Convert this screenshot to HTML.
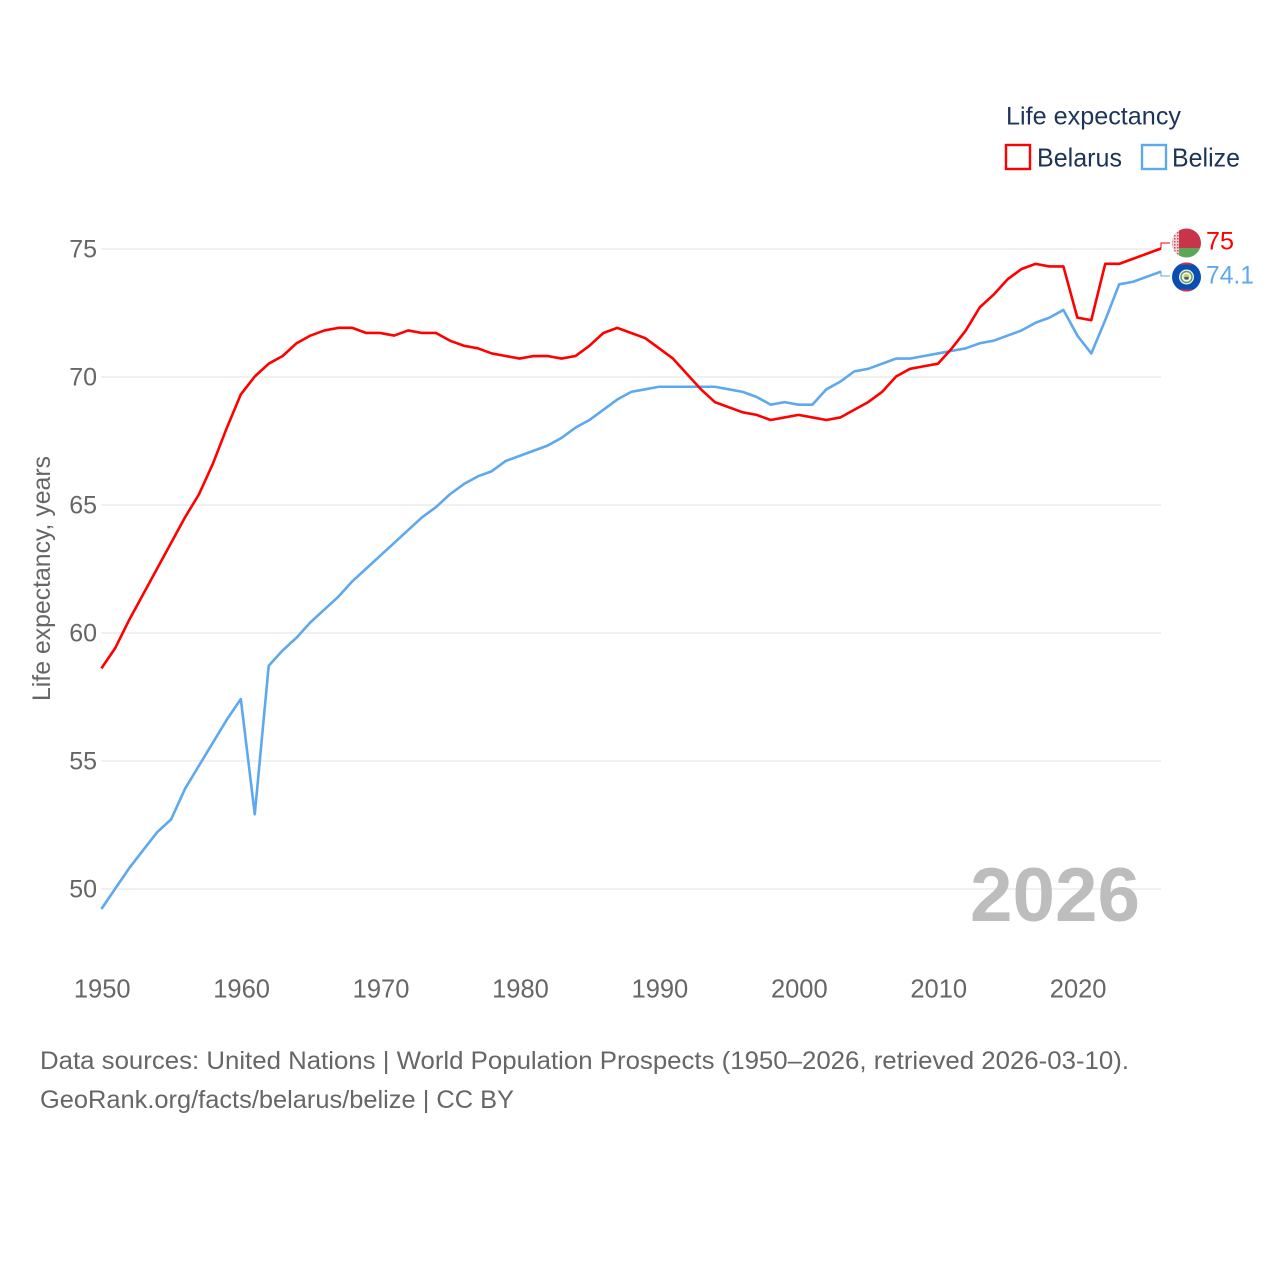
<!DOCTYPE html>
<html lang="en">
<head>
<meta charset="utf-8">
<title>Life expectancy: Belarus and Belize</title>
<style>
html,body{margin:0;padding:0;background:#fff;}
svg{display:block;font-family:"Liberation Sans",Arial,sans-serif;}
</style>
</head>
<body>
<svg id="chart" xmlns="http://www.w3.org/2000/svg" width="1280" height="1280" viewBox="0 0 1280 1280">
  <rect x="0" y="0" width="1280" height="1280" fill="#fff"/>
  <defs>
    <clipPath id="flag-clip-top"><circle cx="1186.500" cy="243" r="14.500"/></clipPath>
    <clipPath id="flag-clip-bottom"><circle cx="1186.500" cy="277" r="14.500"/></clipPath>
    <pattern id="ornament" width="3" height="3" patternUnits="userSpaceOnUse">
      <rect width="3" height="3" fill="#f0d5d8"/>
      <rect x="1" y="1" width="1.500" height="1.500" fill="#cf4a5a"/>
    </pattern>
  </defs>
  <g id="grid"></g>
  <g id="y-ticks"></g>
  <g id="x-ticks"></g>
  <text transform="translate(50,701) rotate(-90)" font-size="25" fill="#666" textLength="245" lengthAdjust="spacingAndGlyphs">Life expectancy, years</text>
  <text x="970" y="921" font-size="76" font-weight="700" fill="#bdbdbd" textLength="170" lengthAdjust="spacingAndGlyphs">2026</text>
  <g id="series" transform="translate(0,-0.5)"></g>

  <g>
    <text x="1006" y="124.500" font-size="25" fill="#1c3557" textLength="175" lengthAdjust="spacingAndGlyphs">Life expectancy</text>
    <g>
      <rect x="1006" y="145" width="24" height="24" fill="#fff" stroke="#f00" stroke-width="2.400"/>
      <text x="1037" y="166.500" font-size="26" fill="#1c3557" textLength="85" lengthAdjust="spacingAndGlyphs">Belarus</text>
    </g>
    <g>
      <rect x="1142" y="145" width="24" height="24" fill="#fff" stroke="#5ea8ee" stroke-width="2.400"/>
      <text x="1172" y="166.500" font-size="26" fill="#1c3557" textLength="68" lengthAdjust="spacingAndGlyphs">Belize</text>
    </g>
  </g>

  <g clip-path="url(#flag-clip-top)">
    <rect x="1172" y="228" width="30" height="20" fill="#c9344a"/>
    <rect x="1172" y="248" width="30" height="10" fill="#5aa75a"/>
    <rect x="1172" y="228" width="7" height="30" fill="url(#ornament)"/>
  </g>
  <g clip-path="url(#flag-clip-bottom)">
    <rect x="1172" y="262" width="30" height="30" fill="#0a4fb0"/>
    <rect x="1172" y="262" width="30" height="2.500" fill="#c9344a"/>
    <rect x="1172" y="289.500" width="30" height="2.500" fill="#c9344a"/>
    <circle cx="1186.500" cy="277" r="7.500" fill="#f4f4ee"/>
    <circle cx="1186.500" cy="277" r="5.500" fill="none" stroke="#5f9f63" stroke-width="1.500"/>
    <circle cx="1186.500" cy="277" r="3" fill="#d9c25a"/>
    <rect x="1184.500" y="277" width="4" height="2.500" fill="#2c5a9c"/>
  </g>
  <text id="label-belarus" x="1206" y="249.500" font-size="25" fill="#f00" textLength="28" lengthAdjust="spacingAndGlyphs"></text>
  <text id="label-belize" x="1206" y="283.500" font-size="25" fill="#5ea8ee" textLength="48" lengthAdjust="spacingAndGlyphs"></text>

  <text x="40" y="1069" font-size="25" fill="#666" textLength="1089" lengthAdjust="spacingAndGlyphs">Data sources: United Nations | World Population Prospects (1950–2026, retrieved 2026-03-10).</text>
  <text x="40" y="1108" font-size="25" fill="#666" textLength="474" lengthAdjust="spacingAndGlyphs">GeoRank.org/facts/belarus/belize | CC BY</text>
</svg>
<script>
const startYear = 1950;
const endYear = 2026;
const yTickValues = [50, 55, 60, 65, 70, 75];
const xTickValues = [1950, 1960, 1970, 1980, 1990, 2000, 2010, 2020];
const belarusValues = [58.6,59.4,60.5,61.5,62.5,63.5,64.5,65.4,66.6,68,69.3,70,70.5,70.8,71.3,71.6,71.8,71.9,71.9,71.7,71.7,71.6,71.8,71.7,71.7,71.4,71.2,71.1,70.9,70.8,70.7,70.8,70.8,70.7,70.8,71.2,71.7,71.9,71.7,71.5,71.1,70.7,70.1,69.5,69,68.8,68.6,68.5,68.3,68.4,68.5,68.4,68.3,68.4,68.7,69,69.4,70,70.3,70.4,70.5,71.1,71.8,72.7,73.2,73.8,74.2,74.4,74.3,74.3,72.3,72.2,74.4,74.4,74.6,74.8,75];
const belizeValues = [49.2,50,50.8,51.5,52.2,52.7,53.9,54.8,55.7,56.6,57.4,52.9,58.7,59.3,59.8,60.4,60.9,61.4,62,62.5,63,63.5,64,64.5,64.9,65.4,65.8,66.1,66.3,66.7,66.9,67.1,67.3,67.6,68,68.3,68.7,69.1,69.4,69.5,69.6,69.6,69.6,69.6,69.6,69.5,69.4,69.2,68.9,69,68.9,68.9,69.5,69.8,70.2,70.3,70.5,70.7,70.7,70.8,70.9,71,71.1,71.3,71.4,71.6,71.8,72.1,72.3,72.6,71.6,70.9,72.2,73.6,73.7,73.9,74.1];
const belarusEndLabel = "75";
const belizeEndLabel = "74.1";

const NS = 'http://www.w3.org/2000/svg';
function xScale(year) { return 101.4 + (year - 1950) * (1161 - 101.4) / 76; }
function yScale(value) { return 889 - (value - 50) * 25.6; }

const grid = document.getElementById('grid');
const yTicks = document.getElementById('y-ticks');
const xTicks = document.getElementById('x-ticks');
const series = document.getElementById('series');

yTickValues.forEach(function (v) {
  const line = document.createElementNS(NS, 'line');
  
  
  line.setAttribute('x1', xScale(startYear));
  line.setAttribute('x2', xScale(endYear));
  line.setAttribute('y1', yScale(v));
  line.setAttribute('y2', yScale(v));
  line.setAttribute('stroke', '#e6e6e6');
  line.setAttribute('stroke-width', '1.2');
  grid.appendChild(line);

  const label = document.createElementNS(NS, 'text');
  
  
  label.setAttribute('x', 97);
  label.setAttribute('y', yScale(v) + 8.5);
  label.setAttribute('text-anchor', 'end');
  label.setAttribute('font-size', '25');
  label.setAttribute('fill', '#666');
  label.textContent = String(v);
  yTicks.appendChild(label);
});

xTickValues.forEach(function (year) {
  const label = document.createElementNS(NS, 'text');
  
  
  label.setAttribute('x', xScale(year) + 0.8);
  label.setAttribute('y', 997.5);
  label.setAttribute('text-anchor', 'middle');
  label.setAttribute('font-size', '25.5');
  label.setAttribute('fill', '#666');
  label.textContent = String(year);
  xTicks.appendChild(label);
});

function linePoints(values) {
  return values.map(function (v, i) {
    return xScale(startYear + i).toFixed(2) + ',' + yScale(v).toFixed(2);
  }).join(' ');
}

function endConnector(values, labelY) {
  const lastY = yScale(values[values.length - 1]);
  const x = xScale(endYear);
  return x + ',' + lastY.toFixed(2) + ' ' + x + ',' + labelY + ' ' + (x + 9) + ',' + labelY;
}

const belarusLine = document.createElementNS(NS, 'polyline');


belarusLine.setAttribute('points', linePoints(belarusValues));
belarusLine.setAttribute('fill', 'none');
belarusLine.setAttribute('stroke', '#f00');
belarusLine.setAttribute('stroke-width', '2.6');
belarusLine.setAttribute('stroke-linejoin', 'round');

const belizeLine = document.createElementNS(NS, 'polyline');


belizeLine.setAttribute('points', linePoints(belizeValues));
belizeLine.setAttribute('fill', 'none');
belizeLine.setAttribute('stroke', '#5ea8ee');
belizeLine.setAttribute('stroke-width', '2.6');
belizeLine.setAttribute('stroke-linejoin', 'round');

const belarusConnector = document.createElementNS(NS, 'polyline');


belarusConnector.setAttribute('points', endConnector(belarusValues, 243.5));
belarusConnector.setAttribute('fill', 'none');
belarusConnector.setAttribute('stroke', '#f00');
belarusConnector.setAttribute('stroke-width', '1');

const belizeConnector = document.createElementNS(NS, 'polyline');


belizeConnector.setAttribute('points', endConnector(belizeValues, 276.5));
belizeConnector.setAttribute('fill', 'none');
belizeConnector.setAttribute('stroke', '#5ea8ee');
belizeConnector.setAttribute('stroke-width', '1');

series.appendChild(belizeLine);
series.appendChild(belarusLine);
series.appendChild(belizeConnector);
series.appendChild(belarusConnector);

document.getElementById('label-belarus').textContent = belarusEndLabel;
document.getElementById('label-belize').textContent = belizeEndLabel;
</script>
</body>
</html>
